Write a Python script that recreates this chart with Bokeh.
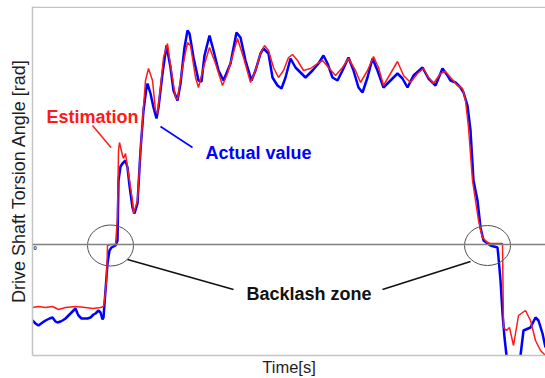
from bokeh.plotting import figure
from bokeh.models import Range1d, Span, Label, FixedTicker
from bokeh.embed import file_html
from bokeh.resources import INLINE

# ---------------- data ----------------
# time [s]
actual_t = [0.00, 0.03, 0.06, 0.10, 0.13, 0.17, 0.20, 0.23, 0.25, 0.28, 0.30, 0.33, 0.36, 0.40,
            0.43, 0.45, 0.46, 0.49, 0.51, 0.55, 0.58, 0.61, 0.63, 0.66, 0.68, 0.70, 0.71, 0.73,
            0.75, 0.77, 0.79, 0.83, 0.85, 0.86, 0.88, 0.90, 0.93, 0.95, 0.97, 1.00, 1.02, 1.05,
            1.08, 1.11, 1.14, 1.15, 1.18, 1.21, 1.24, 1.26, 1.30, 1.34, 1.38, 1.41, 1.45, 1.48,
            1.52, 1.55, 1.57, 1.61, 1.66, 1.69, 1.72, 1.77, 1.81, 1.86, 1.91, 1.98, 2.04, 2.08,
            2.13, 2.19, 2.23, 2.28, 2.31, 2.36, 2.40, 2.45, 2.49, 2.53, 2.58, 2.63, 2.68, 2.73,
            2.80, 2.86, 2.91, 2.95, 3.00, 3.05, 3.10, 3.16, 3.21, 3.26, 3.30, 3.35, 3.40, 3.45,
            3.51, 3.58, 3.65, 3.70, 3.75, 3.81, 3.90, 3.96, 4.03, 4.10, 4.15, 4.18, 4.23, 4.28,
            4.31, 4.35, 4.38, 4.41, 4.45, 4.48, 4.51, 4.58, 4.65, 4.66, 4.68, 4.70, 4.72, 4.74,
            4.76, 4.86, 4.88, 4.91, 4.98, 5.03, 5.06, 5.10, 5.13]
# torsion angle [mrad]
actual_val = [-76, -79, -81, -78, -76, -74, -73, -77, -78, -77, -76, -74, -71, -67,
              -64, -69, -71, -74, -74, -74, -73, -70, -69, -66, -68, -75, -73, -46,
              -19, -6, -3, -1, 4, 64, 78, 81, 84, 77, 59, 37, 31, 41,
              94, 134, 157, 161, 151, 137, 126, 137, 171, 199, 177, 154, 144, 161,
              197, 214, 211, 187, 164, 163, 189, 209, 194, 174, 164, 181, 212, 207,
              184, 164, 174, 191, 196, 191, 167, 159, 156, 167, 186, 177, 172, 167,
              174, 181, 189, 181, 167, 164, 174, 187, 174, 157, 152, 167, 186, 174,
              157, 164, 171, 166, 157, 169, 177, 166, 159, 176, 169, 164, 162, 157,
              152, 139, 114, 64, 44, 17, 4, -1, -3, -13, -36, -69, -93, -111,
              -121, -121, -111, -86, -83, -73, -76, -89, -103]

est_t = [0.00, 0.06, 0.13, 0.20, 0.26, 0.33, 0.43, 0.53, 0.60, 0.68, 0.71, 0.72, 0.74, 0.75,
         0.78, 0.83, 0.85, 0.86, 0.87, 0.90, 0.91, 0.93, 0.95, 1.00, 1.01, 1.05, 1.08, 1.11,
         1.13, 1.16, 1.20, 1.23, 1.25, 1.28, 1.31, 1.35, 1.38, 1.43, 1.45, 1.50, 1.55, 1.58,
         1.63, 1.66, 1.71, 1.77, 1.83, 1.90, 1.95, 2.05, 2.11, 2.18, 2.23, 2.28, 2.32, 2.36,
         2.41, 2.46, 2.51, 2.56, 2.60, 2.65, 2.71, 2.78, 2.85, 2.90, 2.96, 3.03, 3.10, 3.16,
         3.23, 3.28, 3.35, 3.41, 3.46, 3.51, 3.58, 3.65, 3.71, 3.78, 3.85, 3.91, 3.96, 4.01,
         4.08, 4.13, 4.18, 4.25, 4.30, 4.33, 4.36, 4.40, 4.43, 4.46, 4.50, 4.55, 4.58, 4.70,
         4.71, 4.74, 4.77, 4.81, 4.86, 4.93, 4.98, 5.03, 5.08, 5.13]
est_val = [-63, -62, -63, -62, -65, -63, -62, -63, -64, -63, -62, -56, -36, -1,
           0, 0, 27, 94, 102, 89, 86, 91, 77, 44, 31, 44, 94, 137,
           164, 176, 164, 134, 131, 157, 187, 201, 179, 147, 145, 177, 202, 199,
           167, 157, 177, 197, 181, 159, 171, 206, 187, 162, 174, 191, 199, 194,
           177, 167, 174, 187, 190, 184, 174, 176, 181, 184, 177, 169, 177, 186,
           174, 162, 174, 188, 177, 159, 171, 183, 169, 162, 171, 176, 167, 161,
           171, 173, 167, 159, 156, 144, 117, 64, 44, 24, 7, 2, 1, 1,
           -83, -86, -83, -101, -71, -66, -76, -96, -106, -111]

# backlash zones (centre time, centre angle, width, height)
zone_t = [0.78, 4.55]
zone_val = [-1, -1]
zone_w = [0.46, 0.46]
zone_h = [41, 40]

x_lo, x_hi = 0.0, 5.13
y_lo, y_hi = -111, 238

FONT = "Liberation Sans"

p = figure(width=545, height=378, output_backend="svg", toolbar_location=None,
           x_range=Range1d(x_lo, x_hi), y_range=Range1d(y_lo, y_hi),
           min_border_left=32, min_border_right=0, min_border_top=6, min_border_bottom=23)
p.outline_line_color = None
p.grid.visible = False
p.background_fill_color = "white"

for ax in (p.xaxis[0], p.yaxis[0]):
    ax.ticker = FixedTicker(ticks=[])
    ax.major_tick_out = 0
    ax.major_tick_in = 0
    ax.minor_tick_out = 0
    ax.minor_tick_in = 0
    ax.axis_line_color = "#c4c4c4"
    ax.axis_line_width = 1.5
    ax.axis_label_text_font = FONT
    ax.axis_label_text_font_style = "normal"
    ax.axis_label_text_color = "#1e1e1e"
p.yaxis.axis_label = "Drive Shaft Torsion Angle [rad]"
p.yaxis.axis_label_text_font_size = "18px"
p.yaxis.axis_label_standoff = 4
p.xaxis.axis_label = "Time[s]"
p.xaxis.axis_label_text_font_size = "16.5px"
p.xaxis.axis_label_standoff = 2

p.add_layout(Span(location=y_hi - 0.75, dimension="width", line_color="#c4c4c4", line_width=1.5))
p.add_layout(Span(location=0, dimension="width", line_color="#808080", line_width=1.3))

p.line(actual_t, actual_val, line_color="#0000ff", line_width=2.5)
p.line(est_t, est_val, line_color="#ff1a1a", line_width=1.5)

p.ellipse(x=zone_t, y=zone_val, width=zone_w, height=zone_h, fill_color=None,
          line_color="#505050", line_width=1)

# pointer lines
p.segment(x0=[0.60], y0=[119], x1=[0.785], y1=[97], line_color="#ff1a1a", line_width=1.5)
p.segment(x0=[1.28], y0=[118], x1=[1.60], y1=[97], line_color="#0000ff", line_width=1.5)
p.segment(x0=[0.95, 3.50], y0=[-15, -45], x1=[2.01, 4.38], y1=[-45, -17],
          line_color="#111111", line_width=1.6)

p.add_layout(Label(x=0.14, y=128, text="Estimation", text_color="#ff1a1a", text_font=FONT,
                   text_font_style="bold", text_font_size="18px", text_baseline="alphabetic"))
p.add_layout(Label(x=1.73, y=92, text="Actual value", text_color="#0000ff", text_font=FONT,
                   text_font_style="bold", text_font_size="18px", text_baseline="alphabetic"))
p.add_layout(Label(x=2.14, y=-49, text="Backlash zone", text_color="#111111", text_font=FONT,
                   text_font_style="bold", text_font_size="18px", text_baseline="alphabetic"))
p.add_layout(Label(x=0.01, y=-1, text="0", text_color="#333333", text_font=FONT,
                   text_font_style="bold", text_font_size="6px", text_baseline="top"))

open("out.html", "w").write(file_html(p, INLINE))
